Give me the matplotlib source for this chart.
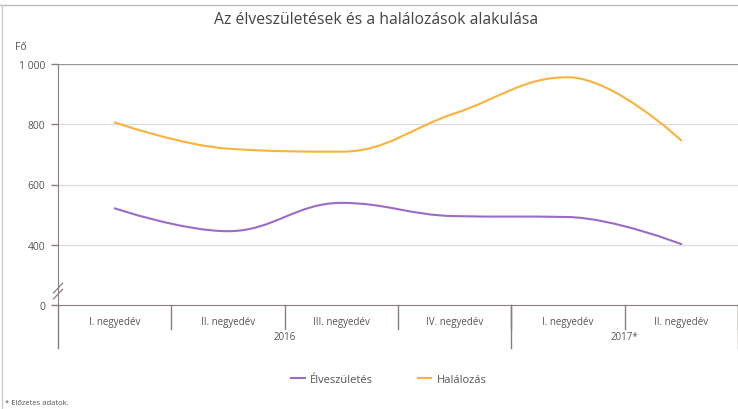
import numpy as np
import matplotlib
matplotlib.use('Agg')
import matplotlib.pyplot as plt
from matplotlib.path import Path
from matplotlib.patches import PathPatch

plt.rcParams['font.family'] = ['Open Sans', 'DejaVu Sans']

#data
quarters = ['I. negyedév', 'II. negyedév', 'III. negyedév', 'IV. negyedév',
            'I. negyedév', 'II. negyedév']
years = ['2016', '2017*']
year_size = [4, 2]
births = [521, 445, 539, 495, 492, 402]
deaths = [806, 719, 709, 836, 956, 746]
series_names = ['Élveszületés', 'Halálozás']
colors = ['#9a6cc8', '#fbb23c']

yticks = [200, 400, 600, 800, 1000]
ytick_labels = ['0', '400', '600', '800', '1 000']

grid_c = '#dcdcdc'
axis_c = '#8a7d7d'
text_c = '#555555'


def spline_path(xs, ys, smoothing=1.5):
    #highcharts style spline through the points
    n = len(xs)
    lc = [None]*n
    rc = [None]*n
    for i in range(n):
        x, y = xs[i], ys[i]
        if i == 0 or i == n-1:
            lc[i] = (x, y)
            rc[i] = (x, y)
            continue
        px, py = xs[i-1], ys[i-1]
        nx, ny = xs[i+1], ys[i+1]
        d = smoothing + 1
        lx = (smoothing*x + px)/d
        ly = (smoothing*y + py)/d
        rx = (smoothing*x + nx)/d
        ry = (smoothing*y + ny)/d
        if rx != lx:
            corr = ((ry - ly)*(rx - x))/(rx - lx) + y - ry
            ly += corr
            ry += corr
        if ly > py and ly > y:
            ly = max(py, y)
            ry = 2*y - ly
        elif ly < py and ly < y:
            ly = min(py, y)
            ry = 2*y - ly
        if ry > ny and ry > y:
            ry = max(ny, y)
            ly = 2*y - ry
        elif ry < ny and ry < y:
            ry = min(ny, y)
            ly = 2*y - ry
        lc[i] = (lx, ly)
        rc[i] = (rx, ry)
    verts = [(xs[0], ys[0])]
    codes = [Path.MOVETO]
    for i in range(1, n):
        verts += [rc[i-1], lc[i], (xs[i], ys[i])]
        codes += [Path.CURVE4]*3
    return Path(verts, codes)


fig = plt.figure(figsize=(7.38, 4.10), dpi=100)
ax = fig.add_axes([58/738, 1-306/410, 1-58/738, (306-65)/410])

x = np.arange(len(quarters))
for vals, c in zip([births, deaths], colors):
    ax.add_patch(PathPatch(spline_path(x, vals), fill=False, edgecolor=c,
                           lw=1.5, capstyle='round', zorder=3))
    ax.plot([], [], color=c, lw=1.5)

ax.set_xlim(-0.5, len(quarters)-0.5)
ax.set_ylim(200, 1000)
ax.set_yticks(yticks)
ax.set_yticklabels(ytick_labels, color=text_c, fontsize=7.5)
ax.tick_params(axis='y', length=5, color=axis_c, width=1, pad=4)
ax.set_xticks([])
for s in ['top', 'right']:
    ax.spines[s].set_visible(False)
ax.spines['left'].set_color(axis_c)
ax.spines['bottom'].set_color(axis_c)
for yv in yticks[1:]:
    ax.axhline(yv, color='#999999' if yv == 1000 else grid_c, lw=1, zorder=1)

#grouped category axis
tr = ax.get_xaxis_transform()
ax.plot([-0.5, -0.5], [0, -0.18], transform=tr, color=axis_c, lw=1, clip_on=False)
for i in range(len(quarters)):
    ax.text(i, -0.07, quarters[i], transform=tr, ha='center', va='center',
            fontsize=7, color=text_c)
    ax.plot([i+0.5]*2, [0, -0.1], transform=tr, color=axis_c, lw=1, clip_on=False)
start = -0.5
for yr, sz in zip(years, year_size):
    ax.text(start + sz/2, -0.13, yr, transform=tr, ha='center', va='center',
            fontsize=7, color=text_c)
    ax.plot([start+sz]*2, [0, -0.18], transform=tr, color=axis_c, lw=1, clip_on=False)
    start += sz

#axis break marks
for dy in [0, 0.025]:
    ax.plot([-0.54, -0.46], [0.025+dy, 0.065+dy], transform=tr, color=axis_c,
            lw=0.9, clip_on=False)

fig.text(15/738, 1-47/410, 'Fő', ha='left', va='center',
         fontsize=7.5, color=text_c)

fig.text(0.51, 0.951, 'Az élveszületések és a halálozások alakulása',
         ha='center', va='center', fontsize=11.3, color='#444444')
fig.add_artist(plt.Line2D([0, 1], [1-6/410]*2, color='#bbbbbb', lw=1))
fig.add_artist(plt.Line2D([2/738]*2, [0, 1-6/410], color='#cccccc', lw=1))

fig.legend(ax.lines[:2], series_names, loc='center', bbox_to_anchor=(0.527, 0.072),
           ncol=2, frameon=False, fontsize=8, handlelength=1.2, handletextpad=0.5,
           columnspacing=4.0, labelcolor=text_c)
fig.text(0.007, 0.016, '* Előzetes adatok.', ha='left', va='center',
         fontsize=5.5, color=text_c)

plt.savefig('out.png', dpi=100)
